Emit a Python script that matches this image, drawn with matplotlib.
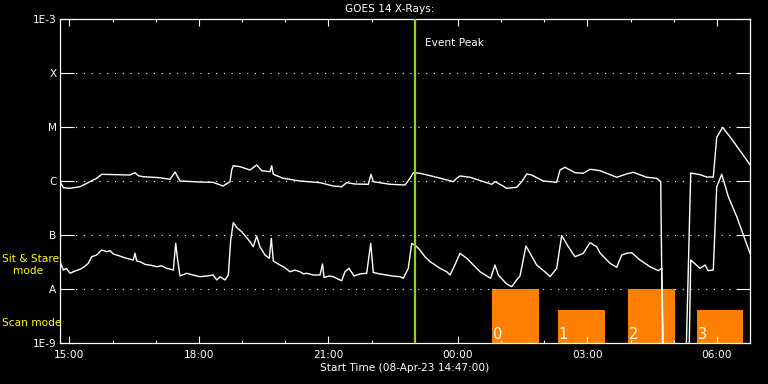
import numpy as np
import matplotlib
matplotlib.use("Agg")
import matplotlib.pyplot as plt

# ---- data (time in hours after start 08-Apr-23 14:47:00) ----
long_t = [0.0, 0.076, 0.232, 0.463, 0.695, 0.850, 0.966, 1.622, 1.737, 1.814, 1.923, 2.316,
          2.548, 2.664, 2.780, 3.243, 3.544, 3.776, 3.938, 3.977, 4.014, 4.170, 4.401, 4.556,
          4.672, 4.865, 4.904, 4.941, 5.173, 5.559, 6.023, 6.331, 6.525, 6.641, 6.834, 7.142,
          7.204, 7.257, 7.644, 7.992, 8.108, 8.184, 8.339, 8.726, 9.111, 9.189, 9.266, 9.497,
          10.000, 10.076, 10.153, 10.347, 10.579, 10.695, 10.811, 10.926, 11.195, 11.505,
          11.582, 11.698, 11.930, 12.122, 12.277, 12.509, 12.896, 13.127, 13.280, 13.590,
          13.822, 13.915, 13.961, 14.501, 14.610, 14.825, 14.980, 15.133, 15.212, 15.351,
          15.597, 15.983]
long_log = [-6.013, -6.124, -6.135, -6.106, -6.013, -5.950, -5.876, -5.889, -5.846, -5.902,
            -5.920, -5.939, -5.969, -5.833, -6.000, -6.019, -6.024, -6.093, -6.013, -5.796,
            -5.717, -5.735, -5.796, -5.704, -5.809, -5.828, -5.717, -5.876, -5.950, -6.000,
            -6.031, -6.093, -6.106, -6.031, -6.056, -6.061, -5.876, -6.013, -6.061, -6.074,
            -5.950, -5.846, -5.857, -5.931, -6.013, -5.950, -5.907, -5.931, -6.061, -6.013,
            -6.043, -6.135, -6.117, -6.013, -5.870, -5.889, -6.000, -6.024, -5.796, -5.746,
            -5.846, -5.857, -5.783, -5.809, -5.931, -5.870, -5.839, -5.931, -5.950, -6.013,
            -9.300, -9.300, -5.852, -5.883, -5.926, -5.926, -5.191, -5.006, -5.265, -5.698]

short_t = [0.016, 0.076, 0.150, 0.232, 0.347, 0.463, 0.560, 0.656, 0.734, 0.850, 0.966, 1.082,
           1.160, 1.235, 1.350, 1.466, 1.580, 1.698, 1.737, 1.777, 1.870, 1.969, 2.100, 2.240,
           2.350, 2.472, 2.625, 2.680, 2.726, 2.780, 2.935, 3.081, 3.243, 3.398, 3.551, 3.630,
           3.706, 3.822, 3.899, 3.954, 4.014, 4.093, 4.209, 4.401, 4.478, 4.556, 4.633, 4.749,
           4.848, 4.895, 4.941, 5.096, 5.200, 5.328, 5.440, 5.559, 5.640, 5.715, 5.868, 6.023,
           6.081, 6.116, 6.230, 6.331, 6.486, 6.525, 6.602, 6.694, 6.810, 6.950, 7.104, 7.197,
           7.257, 7.400, 7.568, 7.700, 7.876, 7.952, 8.068, 8.147, 8.263, 8.339, 8.450, 8.571,
           8.700, 8.802, 8.957, 9.034, 9.111, 9.266, 9.421, 9.653, 9.729, 9.850, 9.973, 10.076,
           10.153, 10.347, 10.463, 10.579, 10.655, 10.794, 11.042, 11.274, 11.350, 11.505,
           11.621, 11.774, 11.930, 12.122, 12.277, 12.432, 12.509, 12.740, 12.896, 13.011,
           13.127, 13.243, 13.435, 13.667, 13.859, 13.938, 13.980, 14.570, 14.610, 14.825,
           14.941, 15.017, 15.133, 15.212, 15.328, 15.481, 15.676, 15.983]
short_log = [-7.524, -7.648, -7.620, -7.709, -7.667, -7.635, -7.590, -7.524, -7.402, -7.370,
             -7.278, -7.309, -7.290, -7.352, -7.380, -7.413, -7.440, -7.463, -7.339, -7.481,
             -7.500, -7.543, -7.560, -7.587, -7.570, -7.617, -7.648, -7.154, -7.463, -7.759,
             -7.709, -7.741, -7.772, -7.759, -7.741, -7.833, -7.772, -7.833, -7.741, -7.093,
             -6.769, -6.861, -6.939, -7.124, -7.217, -7.019, -7.222, -7.370, -7.431, -7.061,
             -7.481, -7.556, -7.600, -7.680, -7.650, -7.680, -7.720, -7.709, -7.741, -7.741,
             -7.537, -7.787, -7.760, -7.772, -7.833, -7.846, -7.680, -7.617, -7.759, -7.720,
             -7.709, -7.154, -7.694, -7.720, -7.741, -7.760, -7.772, -7.802, -7.617, -7.154,
             -7.217, -7.278, -7.400, -7.494, -7.560, -7.617, -7.680, -7.741, -7.617, -7.339,
             -7.431, -7.617, -7.680, -7.740, -7.802, -7.556, -7.741, -7.907, -7.957, -7.833,
             -7.759, -7.204, -7.556, -7.709, -7.772, -7.617, -7.009, -7.217, -7.402, -7.339,
             -7.143, -7.217, -7.333, -7.524, -7.598, -7.370, -7.339, -7.328, -7.463, -7.587,
             -7.661, -7.617, -9.300, -9.300, -7.463, -7.617, -7.556, -7.661, -7.648, -6.106,
             -5.876, -6.291, -6.661, -7.339]

mode_labels = ["0", "1", "2", "3"]
mode_start = [10.007, 11.536, 13.157, 14.749]
mode_end = [11.089, 12.618, 14.239, 15.829]
mode_top = [1e-8, 4.1e-9, 1e-8, 4.1e-9]

event_peak = 8.223
ylabels = ["1E-9", "A", "B", "C", "M", "X", "1E-3"]
xlabels = ["15:00", "18:00", "21:00", "00:00", "03:00", "06:00"]

# ---- figure ----
W, H = 768, 384
fig = plt.figure(figsize=(W / 100, H / 100), dpi=100, facecolor="black")
ax = fig.add_axes([60 / W, (H - 343) / H, 690 / W, 324 / H], facecolor="black")
ax.set_yscale("log")
ax.set_xlim(0, 15.983)
ax.set_ylim(1e-9, 1e-3)

orange = "#ff8000"
for lab, s, e, top in zip(mode_labels, mode_start, mode_end, mode_top):
    ax.bar(s, top - 1e-9, width=e - s, bottom=1e-9, align="edge", color=orange,
           linewidth=0, zorder=1)
    ax.text(s + 0.02, 1.05e-9, lab, color="white", fontsize=10.5, ha="left",
            va="bottom", zorder=4)

yt = [10.0 ** k for k in range(-9, -2)]
for v in yt[1:-1]:
    ax.axhline(v, color="white", lw=0.8, linestyle=(0, (1, 6)), zorder=0.5)

ax.plot(long_t, 10.0 ** np.array(long_log), color="white", lw=1.0, zorder=3)
ax.plot(short_t, 10.0 ** np.array(short_log), color="white", lw=1.0, zorder=3)

ax.axvline(event_peak, color="#9acd1e", lw=1.6, zorder=3.5)
ax.text(event_peak + 0.23, 10 ** -3.45, "Event Peak", color="white", fontsize=7.6,
        ha="left", va="center")

# ticks
major_x = np.arange(13 / 60, 16, 3)
minor_x = np.arange(13 / 60, 16, 1)
ax.set_xticks(major_x)
ax.set_xticklabels(xlabels)
ax.set_xticks(minor_x, minor=True)
ax.set_yticks(yt)
ax.set_yticklabels(ylabels)
ax.yaxis.set_minor_locator(matplotlib.ticker.NullLocator())
ax.tick_params(axis="x", which="major", direction="in", length=5, width=0.8,
               colors="white", top=True, bottom=True, labelsize=7.6, pad=5)
ax.tick_params(axis="x", which="minor", direction="in", length=2.5, width=0.8,
               colors="white", top=True, bottom=True)
ax.tick_params(axis="y", which="major", direction="in", length=10, width=0.8,
               colors="white", left=True, right=True, labelsize=7.6, pad=2.5)
for sp in ax.spines.values():
    sp.set_color("white")
    sp.set_linewidth(0.9)

ax.set_xlabel("Start Time (08-Apr-23 14:47:00)", color="white", fontsize=7.6, labelpad=2)
fig.text(390 / W, 1 - 9.5 / H, "GOES 14 X-Rays:", color="white", fontsize=7.6,
         ha="center", va="center")
yellow = "#ffff00"
fig.text(2 / W, 1 - 259 / H, "Sit & Stare", color=yellow, fontsize=7.6, ha="left", va="center")
fig.text(13 / W, 1 - 271 / H, "mode", color=yellow, fontsize=7.6, ha="left", va="center")
fig.text(2 / W, 1 - 323.5 / H, "Scan mode", color=yellow, fontsize=7.6, ha="left", va="center")

fig.savefig("out.png", dpi=100, facecolor="black")
